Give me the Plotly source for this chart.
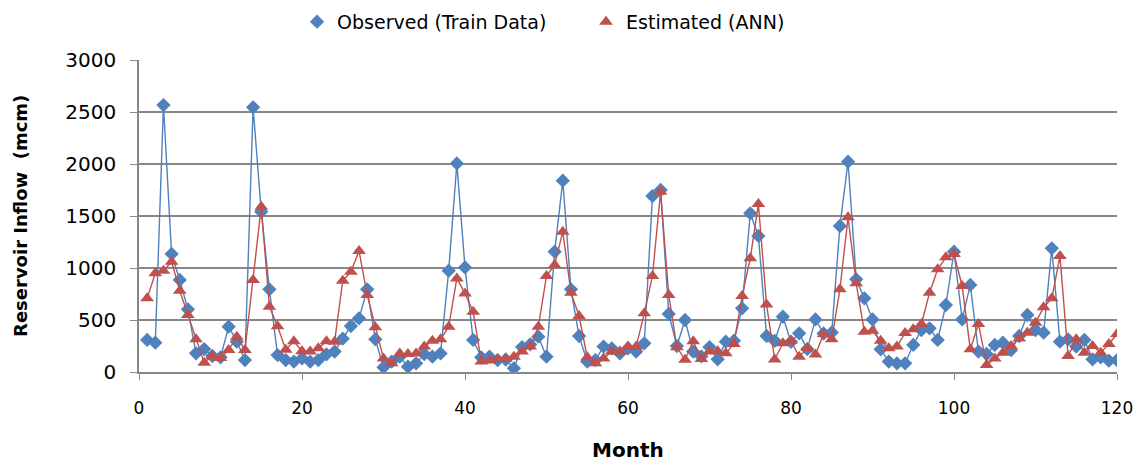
import plotly.graph_objects as go

months = list(range(1, 121))

observed = [308, 282, 2567, 1135, 885, 603, 180, 220, 154, 141,
            436, 292, 115, 2545, 1542, 795, 163, 115, 100, 131,
            100, 115, 170, 196, 320, 442, 516, 795, 314, 45,
            100, 147, 51, 83, 173, 147, 179, 974, 2006, 1006,
            308, 141, 147, 115, 120, 35, 240, 265, 340, 147,
            1157, 1840, 795, 346, 100, 115, 244, 228, 179, 228,
            196, 276, 1692, 1750, 558, 250, 500, 196, 150, 240,
            122, 292, 301, 612, 1526, 1308, 346, 300, 532, 290,
            372, 220, 506, 370, 380, 1404, 2022, 891, 708, 506,
            218, 100, 83, 83, 260, 404, 420, 308, 644, 1157,
            506, 837, 196, 173, 260, 282, 211, 346, 548, 404,
            378, 1189, 292, 314, 244, 308, 122, 141, 109, 115]

estimated = [708, 949, 974, 1061, 782, 548, 314, 90, 155, 135,
             211, 340, 211, 885, 1590, 628, 440, 215, 295, 200,
             196, 228, 295, 292, 878, 965, 1163, 740, 430, 131,
             83, 179, 173, 179, 244, 301, 314, 436, 900, 756,
             580, 100, 110, 125, 128, 147, 196, 244, 436, 923,
             1029, 1349, 763, 538, 141, 83, 131, 196, 196, 244,
             244, 564, 923, 1734, 740, 237, 118, 295, 125, 196,
             200, 180, 270, 731, 1093, 1615, 650, 120, 276, 300,
             147, 230, 168, 365, 315, 795, 1487, 853, 388, 397,
             301, 228, 244, 375, 410, 462, 763, 987, 1103, 1135,
             827, 218, 462, 67, 131, 186, 250, 321, 378, 474,
             622, 708, 1115, 154, 314, 186, 250, 186, 269, 365]

series_names = ["Observed (Train Data)", "Estimated (ANN)"]
x_ticks = [0, 20, 40, 60, 80, 100, 120]
y_ticks = [0, 500, 1000, 1500, 2000, 2500, 3000]

FONT = "DejaVu Sans, sans-serif"
BLUE = "#4F81BD"
RED = "#C0504D"
GRID = "#878787"

fig = go.Figure()
fig.add_trace(go.Scatter(
    x=months, y=observed, name=series_names[0], mode="lines+markers",
    line=dict(color=BLUE, width=1.4), showlegend=False,
    marker=dict(symbol="diamond", size=11, color=BLUE),
))
fig.add_trace(go.Scatter(
    x=months, y=estimated, name=series_names[1], mode="lines+markers",
    line=dict(color=RED, width=1.4), showlegend=False,
    marker=dict(symbol="triangle-up", size=12, color=RED),
))
# legend entries (marker only, as in the reference)
fig.add_trace(go.Scatter(x=[None], y=[None], name=series_names[0], mode="markers",
                         marker=dict(symbol="diamond", size=11, color=BLUE)))
fig.add_trace(go.Scatter(x=[None], y=[None], name=series_names[1], mode="markers",
                         marker=dict(symbol="triangle-up", size=12, color=RED)))

fig.update_layout(
    width=1135, height=465,
    margin=dict(l=139, r=18, t=60, b=93, autoexpand=False),
    plot_bgcolor="white", paper_bgcolor="white",
    font=dict(family=FONT, size=17, color="#000000"),
    legend=dict(orientation="h", xref="container", yref="container",
                x=0.2617, xanchor="left", y=0.953, yanchor="middle",
                font=dict(size=19), entrywidth=244, entrywidthmode="pixels",
                itemwidth=30),
    xaxis=dict(range=[0, 120], tickvals=x_ticks, showgrid=False,
               showline=True, linecolor=GRID, linewidth=1.5,
               ticks="outside", ticklen=6, tickcolor=GRID,
               tickfont=dict(size=17), automargin=False, ticklabelstandoff=14),
    yaxis=dict(range=[0, 3000], tickvals=y_ticks, showgrid=True,
               gridcolor=GRID, gridwidth=1.5,
               showline=True, linecolor=GRID, linewidth=1.5,
               ticks="outside", ticklen=7, tickcolor=GRID,
               tickfont=dict(size=20), zeroline=False, automargin=False,
               ticklabelstandoff=10),
    annotations=[
        dict(text="<b>Month</b>", xref="paper", yref="paper", x=0.5, y=-0.25,
             xanchor="center", yanchor="middle", showarrow=False,
             font=dict(size=20)),
        dict(text="<b>Reservoir Inflow  (mcm)</b>", xref="paper", yref="paper",
             x=-0.1217, y=0.5, xanchor="center", yanchor="middle", textangle=-90,
             showarrow=False, font=dict(size=18)),
    ],
)

fig.write_html("out.html",
               config={"displayModeBar": False},
               post_script="document.body.style.margin='0';document.body.style.overflow='hidden';")
